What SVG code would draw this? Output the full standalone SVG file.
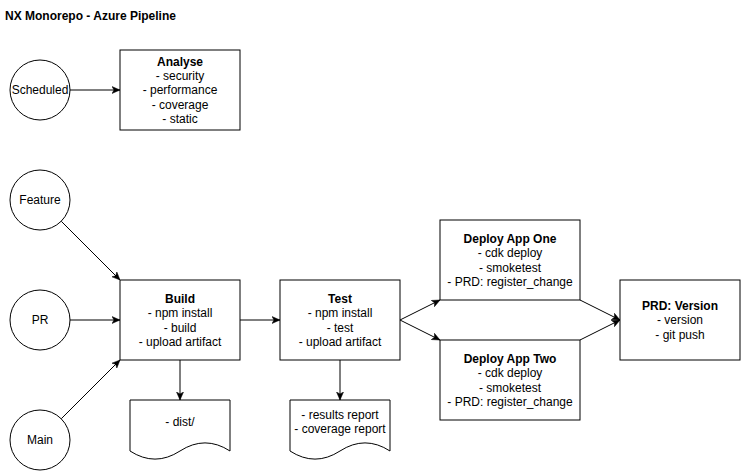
<svg xmlns="http://www.w3.org/2000/svg" width="741" height="471" viewBox="0 0 741 471">
<style>
  .shape { fill: #ffffff; stroke: #000000; stroke-width: 1; }
  .edge { fill: none; stroke: #000000; stroke-width: 1; }
  text { font-family: "Liberation Sans", Arial, Helvetica, sans-serif; font-size: 12px; fill: #000000; text-anchor: middle; }
  .b { font-weight: bold; }
  .title { font-weight: bold; text-anchor: start; }
</style>
<defs>
  <marker id="arrow" viewBox="0 0 8 8" refX="8" refY="4" markerWidth="8" markerHeight="8" markerUnits="userSpaceOnUse" orient="auto">
    <path d="M0,0.5 L8,4 L0,7.5 L2,4 Z" fill="#000000" stroke="#000000" stroke-width="0.5"/>
  </marker>
</defs>
<rect width="741" height="471" fill="#ffffff"/>
<text class="title" x="5" y="20">NX Monorepo - Azure Pipeline</text>

<g id="connectors">
  <path class="edge" d="M70,90 L120,90" marker-end="url(#arrow)"/>
  <path class="edge" d="M61.2,221.2 L120,280" marker-end="url(#arrow)"/>
  <path class="edge" d="M70,320 L120,320" marker-end="url(#arrow)"/>
  <path class="edge" d="M61.2,418.8 L120,360" marker-end="url(#arrow)"/>
  <path class="edge" d="M240,320 L280,320" marker-end="url(#arrow)"/>
  <path class="edge" d="M180,360 L180,400" marker-end="url(#arrow)"/>
  <path class="edge" d="M340,360 L340,400" marker-end="url(#arrow)"/>
  <path class="edge" d="M400,320 L440,300" marker-end="url(#arrow)"/>
  <path class="edge" d="M400,320 L440,340" marker-end="url(#arrow)"/>
  <path class="edge" d="M580,300 L620,320" marker-end="url(#arrow)"/>
  <path class="edge" d="M580,340 L620,320" marker-end="url(#arrow)"/>
</g>

<g id="scheduled">
  <circle class="shape" cx="40" cy="90" r="30"/>
  <text x="40" y="94.3">Scheduled</text>
</g>
<g id="analyse">
  <rect class="shape" x="120" y="50" width="120" height="80"/>
  <text x="180" y="65.5" class="b">Analyse</text>
  <text x="180" y="79.9">- security</text>
  <text x="180" y="94.3">- performance</text>
  <text x="180" y="108.7">- coverage</text>
  <text x="180" y="123.1">- static</text>
</g>
<g id="feature">
  <circle class="shape" cx="40" cy="200" r="30"/>
  <text x="40" y="204.3">Feature</text>
</g>
<g id="pr">
  <circle class="shape" cx="40" cy="320" r="30"/>
  <text x="40" y="324.3">PR</text>
</g>
<g id="main">
  <circle class="shape" cx="40" cy="440" r="30"/>
  <text x="40" y="444.3">Main</text>
</g>
<g id="build">
  <rect class="shape" x="120" y="280" width="120" height="80"/>
  <text x="180" y="302.7" class="b">Build</text>
  <text x="180" y="317.1">- npm install</text>
  <text x="180" y="331.5">- build</text>
  <text x="180" y="345.9">- upload artifact</text>
</g>
<g id="test">
  <rect class="shape" x="280" y="280" width="120" height="80"/>
  <text x="340" y="302.7" class="b">Test</text>
  <text x="340" y="317.1">- npm install</text>
  <text x="340" y="331.5">- test</text>
  <text x="340" y="345.9">- upload artifact</text>
</g>
<g id="dist">
  <path class="shape" d="M130,400 H230 V451 Q205,434.8 180,451 Q155,467.2 130,451 Z"/>
  <text x="180" y="426.3">- dist/</text>
</g>
<g id="reports">
  <path class="shape" d="M290,400 H390 V451 Q365,434.8 340,451 Q315,467.2 290,451 Z"/>
  <text x="340" y="418.6">- results report</text>
  <text x="340" y="433">- coverage report</text>
</g>
<g id="deploy-one">
  <rect class="shape" x="440" y="220" width="140" height="80"/>
  <text x="510" y="242.7" class="b">Deploy App One</text>
  <text x="510" y="257.1">- cdk deploy</text>
  <text x="510" y="271.5">- smoketest</text>
  <text x="510" y="285.9">- PRD: register_change</text>
</g>
<g id="deploy-two">
  <rect class="shape" x="440" y="340" width="140" height="80"/>
  <text x="510" y="362.7" class="b">Deploy App Two</text>
  <text x="510" y="377.1">- cdk deploy</text>
  <text x="510" y="391.5">- smoketest</text>
  <text x="510" y="405.9">- PRD: register_change</text>
</g>
<g id="prd-version">
  <rect class="shape" x="620" y="280" width="120" height="80"/>
  <text x="680" y="309.9" class="b">PRD: Version</text>
  <text x="680" y="324.3">- version</text>
  <text x="680" y="338.7">- git push</text>
</g>
</svg>
